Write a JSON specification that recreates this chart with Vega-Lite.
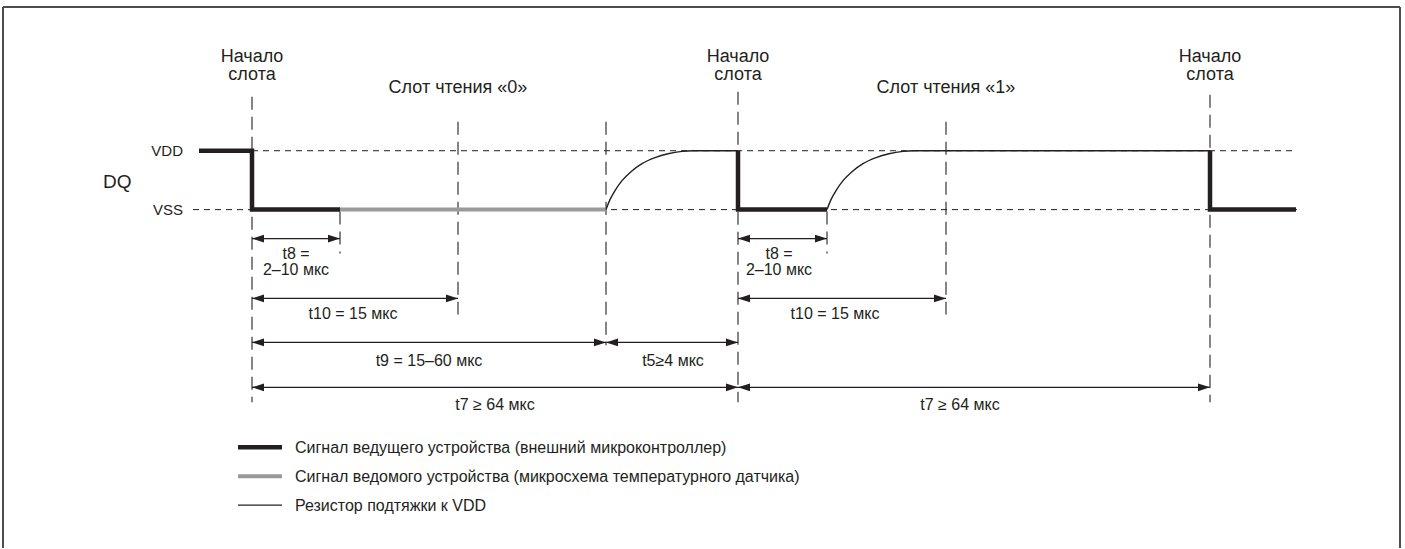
{
  "$schema": "https://vega.github.io/schema/vega-lite/v6.json",
  "width": 1405,
  "height": 549,
  "autosize": {"type": "fit", "contains": "padding"},
  "padding": 0,
  "background": "white",
  "config": {"view": {"stroke": null}, "text": {"font": "Liberation Sans", "color": "#231f20"}},
  "datasets": {
    "signal": [
      {"seg": "m1", "kind": "master", "i": 1, "x": 199, "y": 151},
      {"seg": "m1", "kind": "master", "i": 2, "x": 252, "y": 151},
      {"seg": "m1", "kind": "master", "i": 3, "x": 252, "y": 210},
      {"seg": "m1", "kind": "master", "i": 4, "x": 340, "y": 210},
      {"seg": "m2", "kind": "master", "i": 1, "x": 738, "y": 151},
      {"seg": "m2", "kind": "master", "i": 2, "x": 738, "y": 210},
      {"seg": "m2", "kind": "master", "i": 3, "x": 827, "y": 210},
      {"seg": "m3", "kind": "master", "i": 1, "x": 1210, "y": 151},
      {"seg": "m3", "kind": "master", "i": 2, "x": 1210, "y": 210},
      {"seg": "m3", "kind": "master", "i": 3, "x": 1296, "y": 210},
      {"seg": "lm", "kind": "master", "i": 1, "x": 238, "y": 448},
      {"seg": "lm", "kind": "master", "i": 2, "x": 282, "y": 448},
      {"seg": "s1", "kind": "slave", "i": 1, "x": 340, "y": 210},
      {"seg": "s1", "kind": "slave", "i": 2, "x": 606, "y": 210},
      {"seg": "ls", "kind": "slave", "i": 1, "x": 238, "y": 477},
      {"seg": "ls", "kind": "slave", "i": 2, "x": 282, "y": 477},
      {"seg": "p1", "kind": "pullup", "i": 1, "x": 606, "y": 210},
      {"seg": "p1", "kind": "pullup", "i": 2, "x": 610, "y": 200},
      {"seg": "p1", "kind": "pullup", "i": 3, "x": 615, "y": 191},
      {"seg": "p1", "kind": "pullup", "i": 4, "x": 622, "y": 181},
      {"seg": "p1", "kind": "pullup", "i": 5, "x": 631, "y": 172},
      {"seg": "p1", "kind": "pullup", "i": 6, "x": 642, "y": 164},
      {"seg": "p1", "kind": "pullup", "i": 7, "x": 655, "y": 158},
      {"seg": "p1", "kind": "pullup", "i": 8, "x": 668, "y": 154},
      {"seg": "p1", "kind": "pullup", "i": 9, "x": 682, "y": 151.6},
      {"seg": "p1", "kind": "pullup", "i": 10, "x": 693, "y": 151},
      {"seg": "p1", "kind": "pullup", "i": 11, "x": 738, "y": 151},
      {"seg": "p2", "kind": "pullup", "i": 1, "x": 827, "y": 210},
      {"seg": "p2", "kind": "pullup", "i": 2, "x": 831, "y": 200},
      {"seg": "p2", "kind": "pullup", "i": 3, "x": 836, "y": 191},
      {"seg": "p2", "kind": "pullup", "i": 4, "x": 843, "y": 181},
      {"seg": "p2", "kind": "pullup", "i": 5, "x": 852, "y": 172},
      {"seg": "p2", "kind": "pullup", "i": 6, "x": 863, "y": 164},
      {"seg": "p2", "kind": "pullup", "i": 7, "x": 876, "y": 158},
      {"seg": "p2", "kind": "pullup", "i": 8, "x": 889, "y": 154},
      {"seg": "p2", "kind": "pullup", "i": 9, "x": 903, "y": 151.6},
      {"seg": "p2", "kind": "pullup", "i": 10, "x": 914, "y": 151},
      {"seg": "p2", "kind": "pullup", "i": 11, "x": 1210, "y": 151},
      {"seg": "lp", "kind": "pullup", "i": 1, "x": 238, "y": 506},
      {"seg": "lp", "kind": "pullup", "i": 2, "x": 282, "y": 506}
    ],
    "guides": [
      {"dir": "h", "x": 252, "x2": 1297, "y": 151, "y2": 151},
      {"dir": "h", "x": 193, "x2": 1297, "y": 210, "y2": 210},
      {"dir": "v", "x": 252, "x2": 252, "y": 97, "y2": 403},
      {"dir": "v", "x": 340, "x2": 340, "y": 212, "y2": 254},
      {"dir": "v", "x": 458, "x2": 458, "y": 122, "y2": 315},
      {"dir": "v", "x": 606, "x2": 606, "y": 122, "y2": 346},
      {"dir": "v", "x": 738, "x2": 738, "y": 92, "y2": 403},
      {"dir": "v", "x": 827, "x2": 827, "y": 212, "y2": 254},
      {"dir": "v", "x": 946, "x2": 946, "y": 122, "y2": 315},
      {"dir": "v", "x": 1210, "x2": 1210, "y": 95, "y2": 403}
    ],
    "arrows": [
      {"name": "t8a", "x": 252, "x2": 340, "y": 239},
      {"name": "t10a", "x": 252, "x2": 458, "y": 299},
      {"name": "t9", "x": 252, "x2": 606, "y": 343},
      {"name": "t5", "x": 606, "x2": 738, "y": 343},
      {"name": "t7a", "x": 252, "x2": 738, "y": 388},
      {"name": "t8b", "x": 738, "x2": 827, "y": 239},
      {"name": "t10b", "x": 738, "x2": 946, "y": 299},
      {"name": "t7b", "x": 738, "x2": 1210, "y": 388}
    ],
    "frame": [
      {"x": 3, "x2": 3, "y": 7, "y2": 549},
      {"x": 3, "x2": 1400, "y": 7, "y2": 7},
      {"x": 1400, "x2": 1400, "y": 7, "y2": 549}
    ],
    "texts": [
      {"role": "header", "x": 252, "y": 62, "text": "Начало"},
      {"role": "header", "x": 252, "y": 80, "text": "слота"},
      {"role": "header", "x": 738, "y": 62, "text": "Начало"},
      {"role": "header", "x": 738, "y": 80, "text": "слота"},
      {"role": "header", "x": 1210, "y": 62, "text": "Начало"},
      {"role": "header", "x": 1210, "y": 80, "text": "слота"},
      {"role": "header", "x": 458, "y": 93, "text": "Слот чтения «0»"},
      {"role": "header", "x": 946, "y": 93, "text": "Слот чтения «1»"},
      {"role": "level", "x": 183, "y": 156, "text": "VDD"},
      {"role": "level", "x": 183, "y": 215, "text": "VSS"},
      {"role": "dq", "x": 103, "y": 188, "text": "DQ"},
      {"role": "time", "x": 296, "y": 259, "text": "t8 ="},
      {"role": "time", "x": 296, "y": 276, "text": "2–10 мкс"},
      {"role": "time", "x": 779, "y": 259, "text": "t8 ="},
      {"role": "time", "x": 779, "y": 276, "text": "2–10 мкс"},
      {"role": "time", "x": 353, "y": 320, "text": "t10 = 15 мкс"},
      {"role": "time", "x": 835, "y": 320, "text": "t10 = 15 мкс"},
      {"role": "time", "x": 429, "y": 367, "text": "t9 = 15–60 мкс"},
      {"role": "time", "x": 673, "y": 367, "text": "t5≥4 мкс"},
      {"role": "time", "x": 495, "y": 411, "text": "t7 ≥ 64 мкс"},
      {"role": "time", "x": 960, "y": 411, "text": "t7 ≥ 64 мкс"},
      {"role": "legend", "x": 295, "y": 454, "text": "Сигнал ведущего устройства (внешний микроконтроллер)"},
      {"role": "legend", "x": 295, "y": 483, "text": "Сигнал ведомого устройства (микросхема температурного датчика)"},
      {"role": "legend", "x": 295, "y": 512, "text": "Резистор подтяжки к VDD"}
    ]
  },
  "encoding": {
    "x": {"field": "x", "type": "quantitative", "axis": null, "scale": {"domain": [0, 1405], "nice": false, "zero": false}},
    "y": {"field": "y", "type": "quantitative", "axis": null, "scale": {"domain": [0, 549], "reverse": true, "nice": false, "zero": false}}
  },
  "layer": [
    {
      "data": {"name": "frame"},
      "mark": {"type": "rule", "color": "#4d4d4d", "strokeWidth": 2},
      "encoding": {"x2": {"field": "x2"}, "y2": {"field": "y2"}}
    },
    {
      "data": {"name": "guides"},
      "transform": [{"filter": "datum.dir == 'h'"}],
      "mark": {"type": "rule", "color": "#231f20", "strokeWidth": 1, "strokeDash": [6, 5]},
      "encoding": {"x2": {"field": "x2"}, "y2": {"field": "y2"}}
    },
    {
      "data": {"name": "guides"},
      "transform": [{"filter": "datum.dir == 'v'"}],
      "mark": {"type": "rule", "color": "#231f20", "strokeWidth": 1.1, "strokeDash": [13, 7]},
      "encoding": {"x2": {"field": "x2"}, "y2": {"field": "y2"}}
    },
    {
      "data": {"name": "signal"},
      "transform": [{"filter": "datum.kind == 'slave'"}],
      "mark": {"type": "line", "color": "#9a9a9a", "strokeWidth": 4, "strokeCap": "butt"},
      "encoding": {"detail": {"field": "seg"}, "order": {"field": "i", "type": "quantitative"}}
    },
    {
      "data": {"name": "signal"},
      "transform": [{"filter": "datum.kind == 'pullup'"}],
      "mark": {"type": "line", "color": "#231f20", "strokeWidth": 1.4, "interpolate": "monotone"},
      "encoding": {"detail": {"field": "seg"}, "order": {"field": "i", "type": "quantitative"}}
    },
    {
      "data": {"name": "signal"},
      "transform": [{"filter": "datum.kind == 'master'"}],
      "mark": {"type": "line", "color": "#231f20", "strokeWidth": 4.5, "strokeCap": "butt", "strokeJoin": "miter"},
      "encoding": {"detail": {"field": "seg"}, "order": {"field": "i", "type": "quantitative"}}
    },
    {
      "data": {"name": "arrows"},
      "mark": {"type": "rule", "color": "#231f20", "strokeWidth": 1.3},
      "encoding": {"x2": {"field": "x2"}}
    },
    {
      "data": {"name": "arrows"},
      "mark": {"type": "point", "shape": "M 0 0 L 2 -0.65 L 2 0.65 Z", "filled": true, "color": "#231f20", "opacity": 1, "size": 144},
      "encoding": {}
    },
    {
      "data": {"name": "arrows"},
      "mark": {"type": "point", "shape": "M 0 0 L -2 -0.65 L -2 0.65 Z", "filled": true, "color": "#231f20", "opacity": 1, "size": 144},
      "encoding": {"x": {"field": "x2", "type": "quantitative", "axis": null, "scale": {"domain": [0, 1405], "nice": false, "zero": false}}}
    },
    {
      "data": {"name": "texts"},
      "transform": [{"filter": "datum.role == 'header'"}],
      "mark": {"type": "text", "align": "center", "baseline": "alphabetic", "fontSize": 18},
      "encoding": {"text": {"field": "text"}}
    },
    {
      "data": {"name": "texts"},
      "transform": [{"filter": "datum.role == 'time'"}],
      "mark": {"type": "text", "align": "center", "baseline": "alphabetic", "fontSize": 16},
      "encoding": {"text": {"field": "text"}}
    },
    {
      "data": {"name": "texts"},
      "transform": [{"filter": "datum.role == 'level'"}],
      "mark": {"type": "text", "align": "right", "baseline": "alphabetic", "fontSize": 15},
      "encoding": {"text": {"field": "text"}}
    },
    {
      "data": {"name": "texts"},
      "transform": [{"filter": "datum.role == 'dq'"}],
      "mark": {"type": "text", "align": "left", "baseline": "alphabetic", "fontSize": 19},
      "encoding": {"text": {"field": "text"}}
    },
    {
      "data": {"name": "texts"},
      "transform": [{"filter": "datum.role == 'legend'"}],
      "mark": {"type": "text", "align": "left", "baseline": "alphabetic", "fontSize": 16},
      "encoding": {"text": {"field": "text"}}
    }
  ]
}
